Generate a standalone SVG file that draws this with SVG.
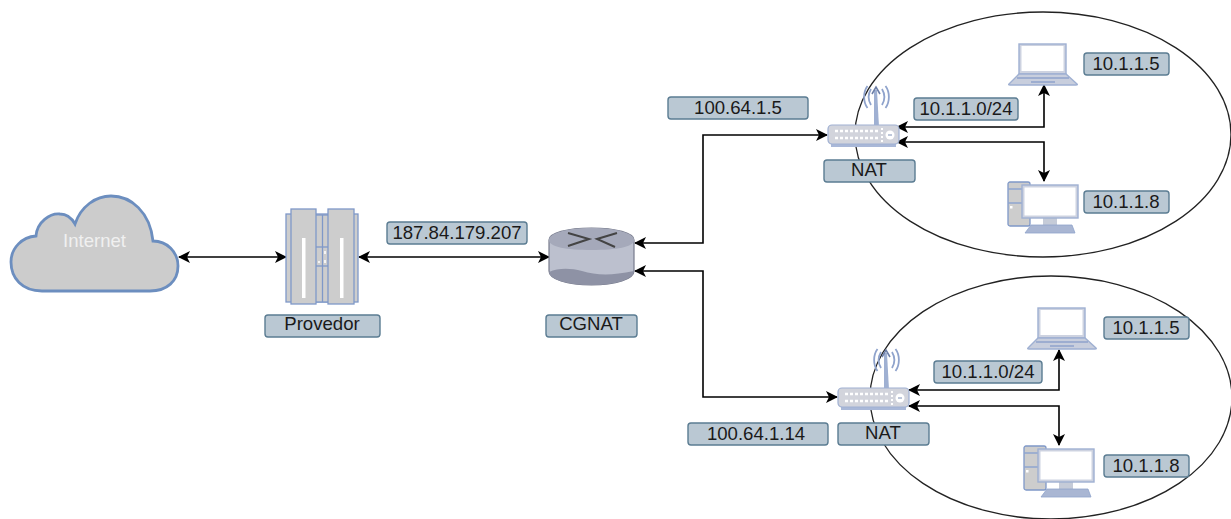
<svg xmlns="http://www.w3.org/2000/svg" width="1231" height="519" viewBox="0 0 1231 519">
<style>
.lb{fill:#bac8d3;stroke:#5b7c92;stroke-width:1.4}
.t{font-family:"Liberation Sans",Arial,sans-serif;font-size:18.6px;fill:#1a1a1a;text-anchor:middle}
.c{fill:none;stroke:#000;stroke-width:1.6;marker-start:url(#a);marker-end:url(#a)}
.e{fill:none;stroke:#222;stroke-width:1.3}
.g{fill:#cdcdcd;stroke:#7f98c8;stroke-width:1.3}
.s{fill:#9fb0d2;stroke:none}
</style>
<defs>
<marker id="a" markerWidth="14" markerHeight="14" refX="11" refY="6.500" orient="auto-start-reverse" markerUnits="userSpaceOnUse"><path d="M0 0.500L12 6.500L0 12.500L3 6.500Z" fill="#000"/></marker>
<g id="router">
<path class="s" d="M46 5H49L51 42H46Z"/>
<path d="M43 4C40 9 40 15 43 20M39.500 1C35 7 35 17 39.500 23M54 4C57 9 57 15 54 20M57.500 1C62 7 62 17 57.500 23" fill="none" stroke="#8fa3cc" stroke-width="1.800"/>
<path d="M44 9L48 2L52 9" fill="none" stroke="#6d7fa8" stroke-width="1.600"/>
<rect x="3" y="58" width="65" height="4" fill="#a9b8d8"/>
<rect x="0" y="40" width="71" height="19" rx="4" fill="#d2d4dc" stroke="#9fb0d2" stroke-width="1.200"/>
<path d="M7 46H51M7 53H51" stroke="#fff" stroke-width="2.400" stroke-dasharray="3 2"/>
<path d="M54 43V57" stroke="#fff" stroke-width="2" stroke-dasharray="2 2"/>
<circle cx="62" cy="50" r="4.500" fill="#fff"/><path d="M60 50H64" stroke="#7f90b5"/>
</g>
<g id="laptop">
<rect x="11" y="1" width="47" height="30" fill="#cdd2e0" stroke="#9fb0d2" stroke-width="1.400"/>
<rect x="13.500" y="3" width="42" height="25" fill="#fff"/>
<path d="M11 31H58L69 41Q70 42 68 42H2Q0 42 1 41Z" fill="#c8cedd" stroke="#9fb0d2" stroke-width="1.400"/>
<path d="M9 35H61M23 39H47" stroke="#8fa3cc" stroke-width="1.500"/>
</g>
<g id="pc">
<rect class="g" x="1" y="1" width="22" height="44" rx="2"/>
<path d="M1 8H23M1 22H23" stroke="#8fa5cf" stroke-width="1.300"/>
<rect x="3" y="25" width="2.500" height="2.500" fill="#fff"/>
<rect x="36" y="36" width="14" height="8" fill="#c5cbd8"/>
<rect x="15" y="4" width="56" height="33" fill="#cdd2e0" stroke="#9fb0d2" stroke-width="1.400"/>
<rect x="17.500" y="6.500" width="51" height="28" fill="#fff"/>
<path d="M24 44H65L68 52H18Z" fill="#a9b6d3" stroke="#8fa3cc" stroke-width="0.800"/>
</g>
</defs>
<rect width="1231" height="519" fill="#fff"/>
<ellipse class="e" cx="1043" cy="134.500" rx="188" ry="122.500"/>
<ellipse class="e" cx="1051" cy="397.500" rx="181" ry="121.500"/>
<g id="connectors">
<path class="c" d="M179 257H286"/>
<path class="c" d="M359 257H549"/>
<path class="c" d="M635 243H703V135H827"/>
<path class="c" d="M635 271H703V397H837"/>
<path class="c" d="M897 127H1044V85"/>
<path class="c" d="M897 142H1044V181"/>
<path class="c" d="M909 390H1059V350"/>
<path class="c" d="M909 406H1059V445"/>
</g>
<g id="internet">
<path d="M42 291C22 291 11 278 11 262C11 248 22 237 36 236C37 222 50 213 60 214C66 214 71 217 75 224C81 206 96 196 111 196C131 196 150 212 153 241C167 241 178 252 178 266C178 281 167 291 150 291Z" fill="#cccccc" stroke="#6c8ebf" stroke-width="2.800"/>
<text x="94.500" y="247" class="t" style="fill:#f0f0f0">Internet</text>
</g>
<g id="provedor">
<rect class="g" x="286" y="214" width="72" height="88"/>
<rect class="g" x="315" y="215" width="15" height="87"/>
<rect class="g" x="315" y="247" width="15" height="19"/>
<path d="M322.500 215V302" stroke="#7f98c8" stroke-width="1.300"/>
<path d="M325 251V254M325 260V263M319 261V263" stroke="#fff" stroke-width="1.600"/>
<rect class="g" x="291" y="209" width="25" height="95"/>
<rect class="g" x="328" y="209" width="26" height="95"/>
<rect x="302" y="238" width="3.500" height="60" fill="#fff"/>
<rect x="340" y="238" width="3.500" height="60" fill="#fff"/>
<rect class="lb" x="265" y="315" width="115" height="22" rx="3"/>
<text x="322" y="330" class="t">Provedor</text>
</g>
<g id="cgnat">
<path d="M549 240C549 233 567 228 591.500 228C616 228 634 233 634 240V271C634 279 616 285 591.500 285C567 285 549 279 549 271Z" fill="#bcc0ce" stroke="#777b8c" stroke-width="1.200"/>
<path d="M549 240C549 233 567 228 591.500 228C616 228 634 233 634 240C634 247 616 250 591.500 250C567 250 549 247 549 240Z" fill="#a5a9ba"/>
<path d="M549 272C558 268 570 268 582 271C596 275 610 276 634 271C634 279 616 285 591.500 285C567 285 549 279 549 272Z" fill="#8e92a5"/>
<path d="M568 233L589 239L568 246M617 233L597 239L615 247" stroke="#444" stroke-width="2" fill="none"/>
<rect class="lb" x="546" y="315" width="91" height="22" rx="3"/>
<text x="591" y="330" class="t">CGNAT</text>
</g>
<g id="nat1">
<use href="#router" x="828" y="85"/>
<rect class="lb" x="824" y="160" width="91" height="22" rx="3"/>
<text x="869" y="176" class="t">NAT</text>
</g>
<g id="nat2">
<use href="#router" x="838" y="348"/>
<rect class="lb" x="838" y="423" width="91" height="22" rx="3"/>
<text x="883" y="439" class="t">NAT</text>
</g>
<g id="laptop1"><use href="#laptop" x="1008" y="43"/></g>
<g id="pc1"><use href="#pc" x="1007" y="181"/></g>
<g id="laptop2"><use href="#laptop" x="1027" y="307"/></g>
<g id="pc2"><use href="#pc" x="1023" y="445"/></g>
<g id="lbl-ip-cgnat"><rect class="lb" x="387" y="222" width="140" height="22" rx="3"/><text x="457" y="239" class="t">187.84.179.207</text></g>
<g id="lbl-ip-nat1"><rect class="lb" x="668" y="97" width="140" height="22" rx="3"/><text x="738" y="114" class="t">100.64.1.5</text></g>
<g id="lbl-ip-nat2"><rect class="lb" x="688" y="423" width="140" height="22" rx="3"/><text x="756" y="440" class="t">100.64.1.14</text></g>
<g id="lbl-net1"><rect class="lb" x="914" y="98" width="104" height="22" rx="3"/><text x="966" y="115" class="t">10.1.1.0/24</text></g>
<g id="lbl-net2"><rect class="lb" x="934" y="361" width="108" height="22" rx="3"/><text x="988" y="378" class="t">10.1.1.0/24</text></g>
<g id="lbl-h1"><rect class="lb" x="1084" y="53" width="85" height="22" rx="3"/><text x="1126" y="70" class="t">10.1.1.5</text></g>
<g id="lbl-h2"><rect class="lb" x="1084" y="191" width="85" height="22" rx="3"/><text x="1126" y="208" class="t">10.1.1.8</text></g>
<g id="lbl-h3"><rect class="lb" x="1104" y="317" width="85" height="22" rx="3"/><text x="1146" y="334" class="t">10.1.1.5</text></g>
<g id="lbl-h4"><rect class="lb" x="1104" y="455" width="85" height="22" rx="3"/><text x="1146" y="472" class="t">10.1.1.8</text></g>
</svg>
